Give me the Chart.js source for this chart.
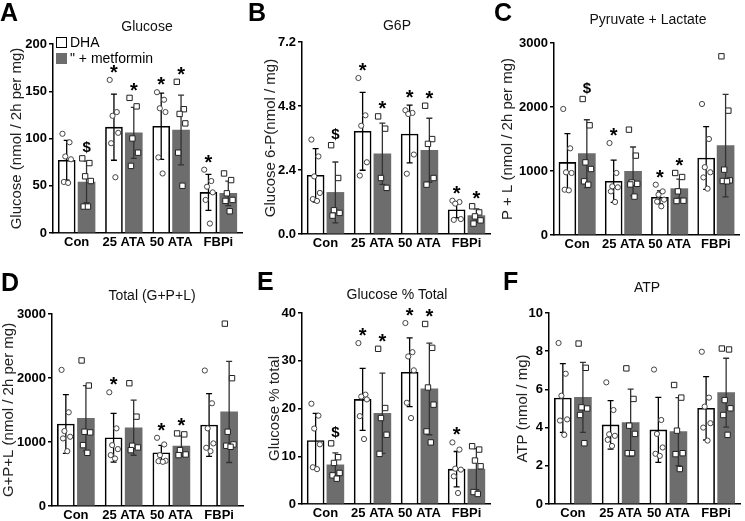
<!DOCTYPE html>
<html>
<head>
<meta charset="utf-8">
<script src="https://cdn.jsdelivr.net/npm/chart.js@4.4.1/dist/chart.umd.min.js"></script>
<style>
body { margin: 0; background: #fff; font-family: "Liberation Sans", Arial, sans-serif; }
#wrap { position: relative; width: 745px; height: 521px; overflow: hidden; }
canvas { position: absolute; }
.letter { position: absolute; font-weight: bold; font-size: 25px; line-height: 25px; color: #000; }
.ttl { position: absolute; width: 200px; text-align: center; font-size: 14px; line-height: 16px; color: #111; }
.leg { position: absolute; font-size: 14px; line-height: 16px; color: #000; white-space: nowrap; }
.sw { position: absolute; width: 11px; height: 11px; box-sizing: border-box; }
</style>
</head>
<body>
<div id="wrap">
  <canvas id="cA"></canvas>
  <canvas id="cB"></canvas>
  <canvas id="cC"></canvas>
  <canvas id="cD"></canvas>
  <canvas id="cE"></canvas>
  <canvas id="cF"></canvas>

  <div class="letter" style="left:0px;top:0px">A</div>
  <div class="letter" style="left:248px;top:0px">B</div>
  <div class="letter" style="left:494px;top:0px">C</div>
  <div class="letter" style="left:1px;top:270px">D</div>
  <div class="letter" style="left:257px;top:269px">E</div>
  <div class="letter" style="left:503px;top:269px">F</div>

  <div class="ttl" style="left:47px;top:18px">Glucose</div>
  <div class="ttl" style="left:297px;top:17px">G6P</div>
  <div class="ttl" style="left:548px;top:11px">Pyruvate + Lactate</div>
  <div class="ttl" style="left:52px;top:287px">Total (G+P+L)</div>
  <div class="ttl" style="left:297px;top:286px">Glucose % Total</div>
  <div class="ttl" style="left:547px;top:279px">ATP</div>

  <div class="sw" style="left:56px;top:37px;border:1.5px solid #000;background:#fff"></div>
  <div class="leg" style="left:70px;top:34px">DHA</div>
  <div class="sw" style="left:56px;top:53px;background:#6d6d6d"></div>
  <div class="leg" style="left:70px;top:50px">" + metformin</div>
</div>
<script>
const categories = ['Con', '25 ATA', '50 ATA', 'FBPi'];

// A - glucose
const glucoseDHA = [77, 112, 113, 43];
const glucoseMet = [54, 106, 109, 42];
const glucoseDHASd = [21, 35, 35, 19];
const glucoseMetSd = [22, 27, 37, 13];
const glucoseDHAPts = [[105, 96, 81, 78, 54, 53], [162, 128, 124, 106, 95, 59], [149, 141, 132, 128, 80, 63], [67, 55, 49, 43, 35, 10]];
const glucoseMetPts = [[79, 74, 60, 55, 28, 28], [143, 134, 100, 85, 71], [160, 131, 126, 116, 85, 50], [63, 56, 42, 35, 34, 23]];
const glucoseDHAMarks = ['', '*', '*', '*'];
const glucoseMetMarks = ['$', '*', '*', ''];

// B - G6P
const g6pDHA = [2.2, 3.85, 3.75, 0.91];
const g6pMet = [1.56, 3.01, 3.14, 0.69];
const g6pDHASd = [1.0, 1.46, 1.08, 0.3];
const g6pMetSd = [1.14, 1.15, 1.2, 0.25];
const g6pDHAPts = [[3.54, 2.91, 2.16, 1.54, 1.31, 1.24], [5.85, 4.45, 4.06, 2.69, 2.19], [4.64, 4.54, 4.5, 2.98, 2.26], [1.25, 1.2, 1.14, 0.56, 0.53]];
const g6pMetPts = [[3.33, 2.1, 0.89, 0.79, 0.69], [4.41, 3.95, 2.1, 1.73], [4.81, 3.56, 3.38, 2.1, 1.85], [1.04, 0.81, 0.66, 0.51, 0.39]];
const g6pDHAMarks = ['', '*', '*', '*'];
const g6pMetMarks = ['$', '*', '*', '*'];

// C - pyruvate + lactate
const plDHA = [1135, 839, 589, 1203];
const plMet = [1271, 995, 724, 1396];
const plDHASd = [450, 330, 100, 490];
const plMetSd = [530, 380, 150, 800];
const plDHAPts = [[1969, 1354, 979, 969, 708, 698], [1437, 969, 760, 745, 682, 516], [786, 682, 630, 552, 521, 448], [2047, 1500, 1060, 980, 900, 724]];
const plMetPts = [[2125, 1714, 1135, 1031, 839, 786], [1646, 1240, 820, 800, 790, 600], [969, 906, 682, 536, 531], [2792, 1943, 1021, 854, 844, 839]];
const plDHAMarks = ['', '*', '*', ''];
const plMetMarks = ['$', '', '*', ''];

// D - total
const totDHA = [1281, 1066, 831, 1265];
const totMet = [1370, 1223, 936, 1470];
const totDHASd = [460, 380, 115, 490];
const totMetSd = [510, 430, 160, 790];
const totDHAPts = [[2127, 1464, 1171, 1082, 1056, 857], [1777, 1213, 951, 889, 795, 742], [1066, 962, 795, 706, 700, 690], [2117, 1605, 1213, 978, 910, 857]];
const totMetPts = [[2274, 1882, 1160, 1150, 951, 831], [1918, 1396, 941, 915, 873], [1134, 1119, 873, 805, 795], [2849, 1997, 1160, 962, 941, 925]];
const totDHAMarks = ['', '*', '*', ''];
const totMetMarks = ['', '', '*', ''];

// E - glucose % total
const pctDHA = [13.3, 21.9, 27.6, 7.3];
const pctMet = [8.2, 19.0, 24.1, 7.3];
const pctDHASd = [5.7, 6.5, 7.2, 3.7];
const pctMetSd = [2.5, 8.4, 9.6, 4.3];
const pctDHAPts = [[21, 18.5, 15.8, 12.5, 7.7, 7.3], [33.7, 22.9, 22.5, 21.9, 18.4, 13.6], [37.9, 31.8, 30.9, 28, 21.2, 18], [12.9, 11.4, 7.4, 7.2, 5.8, 2.3]];
const pctMetPts = [[12.7, 9.8, 8.6, 6.5, 6.0, 5.3], [32.5, 20.1, 18, 14.5, 10.5], [37.7, 32.7, 24.4, 20.8, 15.2, 12.9], [12.1, 11.4, 9.1, 7.9, 2.5, 2.1]];
const pctDHAMarks = ['', '*', '*', '*'];
const pctMetMarks = ['$', '*', '*', ''];

// F - ATP
const atpDHA = [5.55, 4.14, 3.88, 5.01];
const atpMet = [5.58, 4.26, 3.79, 5.83];
const atpDHASd = [1.8, 1.27, 1.7, 1.66];
const atpMetSd = [1.83, 1.75, 1.78, 1.8];
const atpDHAPts = [[8.43, 6.82, 5.67, 4.43, 4.37, 3.62], [6.37, 4.92, 3.65, 3.57, 3.36, 3.04], [7.04, 4.4, 3.67, 2.96, 2.63, 2.52], [7.97, 5.57, 5.1, 4.23, 4.0, 3.32]];
const atpMetPts = [[8.4, 7.13, 5.06, 5.0, 4.66, 3.18], [7.1, 5.5, 4.1, 3.67, 2.66, 2.66], [6.23, 5.57, 3.84, 2.66, 2.61, 1.83], [8.14, 8.09, 5.44, 5.01, 4.66, 3.62]];
const atpDHAMarks = ['', '', '', ''];
const atpMetMarks = ['', '', '', ''];

const FONT = '"Liberation Sans", Arial, sans-serif';
const jitter = [-0.09, 0.06, -0.03, 0.09, -0.06, 0.03];
const half = 0.21;

function barsFor(means, side) {
  return means.map((v, i) => ({ x: i + side * half, y: v }));
}

function pointsFor(ptsList, side) {
  const out = [];
  ptsList.forEach((pts, i) => {
    pts.forEach((v, k) => out.push({ x: i + side * half + jitter[k % jitter.length], y: v }));
  });
  return out;
}

// mean +/- SD whiskers, drawn right after each bar set so points sit on top
const errorBars = {
  id: 'errorBars',
  afterDatasetDraw(chart, args) {
    const ds = chart.data.datasets[args.index];
    if (!ds.sd) return;
    const y = chart.scales.y, ctx = chart.ctx;
    ctx.save();
    ctx.strokeStyle = ds.errColor;
    ctx.lineWidth = 1.3;
    args.meta.data.forEach((bar, i) => {
      const m = ds.data[i].y, s = ds.sd[i];
      const t = y.getPixelForValue(m + s);
      const b = y.getPixelForValue(Math.max(0, m - s));
      ctx.beginPath();
      ctx.moveTo(bar.x, t); ctx.lineTo(bar.x, b);
      ctx.moveTo(bar.x - 3, t); ctx.lineTo(bar.x + 3, t);
      ctx.moveTo(bar.x - 3, b); ctx.lineTo(bar.x + 3, b);
      ctx.stroke();
    });
    ctx.restore();
  }
};

const sigMarks = {
  id: 'sigMarks',
  afterDatasetsDraw(chart) {
    const y = chart.scales.y, ctx = chart.ctx;
    chart.data.datasets.forEach((ds, di) => {
      if (!ds.marks) return;
      const meta = chart.getDatasetMeta(di);
      meta.data.forEach((bar, i) => {
        const mk = ds.marks[i];
        if (!mk) return;
        const top = Math.max(ds.data[i].y + ds.sd[i], ...ds.pts[i]);
        const yc = y.getPixelForValue(top) - 11;
        ctx.save();
        ctx.fillStyle = '#000';
        ctx.textAlign = 'center';
        ctx.textBaseline = 'alphabetic';
        if (mk === '*') {
          ctx.font = 'bold 20px ' + FONT;
          ctx.fillText(mk, bar.x, yc + 10);
        } else {
          ctx.font = 'bold 15px ' + FONT;
          ctx.fillText(mk, bar.x, yc + 5);
        }
        ctx.restore();
      });
    });
  }
};

function makePanel(p) {
  const cv = document.getElementById(p.id);
  const [cx, cy, cw, ch] = p.box;
  const [pl, pr, pt, pb] = p.plot;
  cv.width = cw; cv.height = ch;
  cv.style.left = cx + 'px'; cv.style.top = cy + 'px';
  new Chart(cv, {
    type: 'bar',
    data: {
      datasets: [
        { label: 'DHA', data: barsFor(p.dha, -1), sd: p.dhaSd, pts: p.dhaPts, marks: p.dhaMarks,
          backgroundColor: '#fff', borderColor: '#000', borderWidth: 1.6, errColor: '#000',
          grouped: false, barThickness: 17, order: 2 },
        { label: '" + metformin', data: barsFor(p.met, 1), sd: p.metSd, pts: p.metPts, marks: p.metMarks,
          backgroundColor: '#6d6d6d', borderWidth: 0, errColor: '#333',
          grouped: false, barThickness: 17, order: 2 },
        { type: 'scatter', data: pointsFor(p.dhaPts, -1), pointStyle: 'circle',
          pointRadius: 2.6, borderColor: '#444', backgroundColor: '#fff', borderWidth: 1, order: 1 },
        { type: 'scatter', data: pointsFor(p.metPts, 1), pointStyle: 'rect',
          pointRadius: 3.8, borderColor: '#222', backgroundColor: '#fff', borderWidth: 1, order: 1 }
      ]
    },
    options: {
      responsive: false,
      animation: false,
      devicePixelRatio: 1,
      layout: { padding: { top: pt - cy, right: cx + cw - pr, left: 0, bottom: 0 } },
      plugins: { legend: { display: false }, tooltip: { enabled: false } },
      scales: {
        x: {
          type: 'linear', min: -0.5, max: 3.5, offset: false,
          grid: { display: false, drawTicks: false },
          border: { color: '#000', width: 1.5 },
          afterBuildTicks: s => { s.ticks = categories.map((c, i) => ({ value: i })); },
          ticks: { color: '#000', font: { family: FONT, size: 13, weight: 'bold' }, padding: 2,
                   maxRotation: 0, autoSkip: false, callback: v => categories[v] },
          afterFit: s => { s.height = cy + ch - pb; }
        },
        y: {
          min: 0, max: p.max,
          ticks: { stepSize: p.step, color: '#000', font: { family: FONT, size: 13, weight: 'bold' }, padding: 2,
                   callback: v => v.toFixed(p.dec) },
          grid: { drawOnChartArea: false, color: '#000', lineWidth: 1.5, tickLength: 4 },
          border: { color: '#000', width: 1.5 },
          title: { display: true, text: p.yTitle, color: '#222', font: { family: FONT, size: 15 },
                   padding: { top: Math.max(0, p.titleAt - cx - 9), bottom: 0 } },
          afterFit: s => { s.width = pl - cx; }
        }
      }
    },
    plugins: [errorBars, sigMarks]
  });
}

makePanel({ id: 'cA', box: [0, 0, 248, 255], plot: [53, 242, 44, 233], titleAt: 17,
  yTitle: 'Glucose (nmol / 2h per mg)', max: 200, step: 50, dec: 0,
  dha: glucoseDHA, met: glucoseMet, dhaSd: glucoseDHASd, metSd: glucoseMetSd,
  dhaPts: glucoseDHAPts, metPts: glucoseMetPts, dhaMarks: glucoseDHAMarks, metMarks: glucoseMetMarks });

makePanel({ id: 'cB', box: [250, 0, 245, 255], plot: [302, 492, 42, 234], titleAt: 271,
  yTitle: 'Glucose 6-P(nmol / mg)', max: 7.2, step: 2.4, dec: 1,
  dha: g6pDHA, met: g6pMet, dhaSd: g6pDHASd, metSd: g6pMetSd,
  dhaPts: g6pDHAPts, metPts: g6pMetPts, dhaMarks: g6pDHAMarks, metMarks: g6pMetMarks });

makePanel({ id: 'cC', box: [495, 0, 250, 255], plot: [554, 739, 43, 235], titleAt: 508,
  yTitle: 'P + L (nmol / 2h per mg)', max: 3000, step: 1000, dec: 0,
  dha: plDHA, met: plMet, dhaSd: plDHASd, metSd: plMetSd,
  dhaPts: plDHAPts, metPts: plMetPts, dhaMarks: plDHAMarks, metMarks: plMetMarks });

makePanel({ id: 'cD', box: [0, 258, 248, 263], plot: [52, 245, 314, 506], titleAt: 9,
  yTitle: 'G+P+L (nmol / 2h per mg)', max: 3000, step: 1000, dec: 0,
  dha: totDHA, met: totMet, dhaSd: totDHASd, metSd: totMetSd,
  dhaPts: totDHAPts, metPts: totMetPts, dhaMarks: totDHAMarks, metMarks: totMetMarks });

makePanel({ id: 'cE', box: [250, 258, 245, 263], plot: [302, 493, 313, 504], titleAt: 275,
  yTitle: 'Glucose % total', max: 40, step: 10, dec: 0,
  dha: pctDHA, met: pctMet, dhaSd: pctDHASd, metSd: pctMetSd,
  dhaPts: pctDHAPts, metPts: pctMetPts, dhaMarks: pctDHAMarks, metMarks: pctMetMarks });

makePanel({ id: 'cF', box: [495, 258, 250, 263], plot: [549, 740, 313, 504], titleAt: 523,
  yTitle: 'ATP (nmol / mg)', max: 10, step: 2, dec: 0,
  dha: atpDHA, met: atpMet, dhaSd: atpDHASd, metSd: atpMetSd,
  dhaPts: atpDHAPts, metPts: atpMetPts, dhaMarks: atpDHAMarks, metMarks: atpMetMarks });
</script>
</body>
</html>
